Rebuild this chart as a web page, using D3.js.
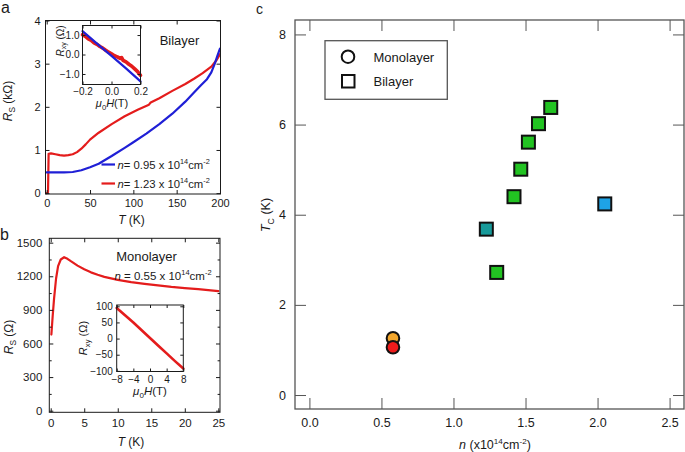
<!DOCTYPE html>
<html lang="en">
<head>
<meta charset="UTF-8">
<title>Tc vs carrier density</title>
<script src="https://cdn.jsdelivr.net/npm/d3@7/dist/d3.min.js"></script>
<style>
    body { margin: 0; background: #fff; }
    text { font-family: "Liberation Sans", Arial, sans-serif; fill: #1a1a1a; }
</style>
</head>
<body>
<svg id="fig" width="685" height="452"></svg>
<script>
    // ---- panel a : bilayer, Rs (kOhm) vs T (K)
    const aTicksX = [0, 50, 100, 150, 200];
    const aTicksY = [0, 1, 2, 3, 4];
    const aBlue = [[0,0.48],[10,0.48],[20,0.48],[30,0.49],[40,0.53],[50,0.6],[60,0.68],[75,0.86],[90,1.05],[100,1.18],[115,1.38],[130,1.6],[145,1.84],[160,2.12],[170,2.33],[178,2.5],[185,2.64],[190,2.8],[194,3.0],[197,3.18],[200,3.35]];
    const aRed = [[0,0],[1.5,0.02],[2.2,0.91],[5,0.92],[10,0.9],[15,0.88],[20,0.87],[25,0.88],[30,0.9],[35,0.95],[40,1.03],[45,1.13],[50,1.24],[60,1.4],[75,1.6],[90,1.78],[105,1.93],[118,2.05],[120,2.1],[130,2.2],[145,2.37],[160,2.53],[170,2.65],[180,2.78],[190,2.93],[196,3.08],[200,3.22]];
    const aLegend = ["0.95", "1.23"];
    // inset a : Rxy (Ohm) vs mu0H (T)
    const aHallTicksX = [-0.2, 0.0, 0.2];
    const aHallTicksY = [-1.0, 0.0, 1.0];
    const aHallBlue = [[-0.2,1.2],[-0.1,0.56],[0,-0.07],[0.1,-0.71],[0.2,-1.38]];
    const aHallRed = [[-0.2,1.02],[-0.18,0.93],[-0.16,0.8],[-0.14,0.73],[-0.12,0.6],[-0.1,0.52],[-0.08,0.41],[-0.06,0.33],[-0.04,0.22],[-0.02,0.12],[0,0.04],[0.02,-0.06],[0.04,-0.12],[0.06,-0.2],[0.07,-0.16],[0.08,-0.3],[0.1,-0.38],[0.12,-0.5],[0.14,-0.6],[0.16,-0.74],[0.18,-0.88],[0.2,-1.07]];

    // ---- panel b : monolayer, Rs (Ohm) vs T (K)
    const bTicksX = [0, 5, 10, 15, 20, 25];
    const bTicksY = [0, 300, 600, 900, 1200, 1500];
    const bMinorY = [150, 450, 750, 1050, 1350];
    const bCurve = [[0.1,680],[0.3,850],[0.5,1000],[0.8,1180],[1.1,1290],[1.5,1350],[2.0,1370],[2.5,1356],[3,1335],[4,1295],[5,1262],[6,1235],[7,1213],[8,1195],[10,1168],[12,1148],[14,1132],[16,1118],[18,1105],[20,1095],[22,1085],[25,1068]];
    // inset b
    const bHallTicksX = [-8, -4, 0, 4, 8];
    const bHallTicksY = [-100, -50, 0, 50, 100];
    const bHall = [[-8,95],[-6,72],[-4,50],[-2,26],[0,2],[2,-22],[4,-46],[6,-70],[8,-93]];

    // ---- panel c : Tc (K) vs n (1e14 cm^-2)
    const cTicksX = [0.0, 0.5, 1.0, 1.5, 2.0, 2.5];
    const cTicksY = [0, 2, 4, 6, 8];
    const monoN = [0.58, 0.58];
    const monoTc = [1.26, 1.06];
    const monoColor = ["#f2a62c", "#ee1b1b"];
    const biN = [1.30, 1.228, 1.42, 1.467, 1.52, 1.59, 1.675, 2.05];
    const biTc = [2.72, 3.68, 4.40, 5.01, 5.61, 6.02, 6.38, 4.24];
    const biColor = ["#22c322", "#189a9a", "#22c322", "#22c322", "#22c322", "#22c322", "#22c322", "#1ea3e6"];

    const svg = d3.select("#fig");
    const blue = "#1f1fd6", red = "#e41c1c";

    // draws frame + inward ticks on all four sides
    function frame(x, y, o) {
        const g = svg.append("g");
        const [x0, x1] = x.range(), [y0, y1] = y.range();
        const fs = o.fs || 11;
        const ax = (axis, tr, fmt, vals, len) => {
            const a = g.append("g").attr("transform", tr)
                .call(axis.tickValues(vals).tickSizeInner(-len).tickSizeOuter(0).tickPadding(o.pad || 5).tickFormat(fmt));
            a.select(".domain").remove();
            a.selectAll("line").attr("stroke", o.col || "#1a1a1a").attr("stroke-width", 1);
            a.selectAll("text").attr("font-size", fs).attr("font-family", null).attr("fill", "#1a1a1a");
            return a;
        };
        const none = () => "";
        ax(d3.axisBottom(x), `translate(0,${y0})`, o.fx, o.tx, o.tl);
        ax(d3.axisTop(x), `translate(0,${y1})`, none, o.tx, o.tl);
        ax(d3.axisLeft(y), `translate(${x0},0)`, o.fy, o.ty, o.tl);
        ax(d3.axisRight(y), `translate(${x1},0)`, none, o.ty, o.tl);
        if (o.my) {
            ax(d3.axisLeft(y), `translate(${x0},0)`, none, o.my, o.tl * 0.6);
            ax(d3.axisRight(y), `translate(${x1},0)`, none, o.my, o.tl * 0.6);
        }
        g.append("rect").attr("x", x0).attr("y", y1).attr("width", x1 - x0).attr("height", y0 - y1)
            .attr("fill", "none").attr("stroke", o.col || "#1a1a1a").attr("stroke-width", o.sw || 1);
        return g;
    }

    function curve(data, x, y, color, w) {
        svg.append("path").datum(data)
            .attr("d", d3.line().x(d => x(d[0])).y(d => y(d[1])))
            .attr("fill", "none").attr("stroke", color).attr("stroke-width", w)
            .attr("stroke-linejoin", "round").attr("stroke-linecap", "round");
    }

    // text with italic / sub / sup parts, shifted with dy
    function label(x, y, size, parts, opt) {
        opt = opt || {};
        const t = svg.append("text").attr("font-size", size).attr("text-anchor", opt.anchor || "middle");
        if (opt.rot) t.attr("transform", `translate(${x},${y}) rotate(-90)`);
        else t.attr("x", x).attr("y", y);
        let shift = 0;
        parts.forEach(p => {
            const s = t.append("tspan").text(p.t);
            let want = 0;
            if (p.sup) { want = -0.42 * size; s.attr("font-size", size * 0.65); }
            if (p.sub) { want = 0.28 * size; s.attr("font-size", size * 0.7); }
            if (want !== shift) s.attr("dy", want - shift);
            shift = want;
            if (p.i) s.attr("font-style", "italic");
        });
        return t;
    }

    const fmt1 = d3.format(".1f");

    // ================= panel a
    const ax = d3.scaleLinear().domain([-1.4, 200.6]).range([45.5, 220.5]);
    const ay = d3.scaleLinear().domain([-0.02, 4]).range([194, 20.5]);
    curve(aRed, ax, ay, red, 2.2);
    curve(aBlue, ax, ay, blue, 2.2);
    frame(ax, ay, {tx: aTicksX, ty: aTicksY, tl: 4, fs: 11, pad: 5, fx: d3.format("d"), fy: d3.format("d")});

    // legend a
    aLegend.forEach((v, i) => {
        const yy = 164.5 + i * 19;
        svg.append("line").attr("x1", 101.5).attr("x2", 115).attr("y1", yy).attr("y2", yy)
            .attr("stroke", i ? red : blue).attr("stroke-width", 2.2);
        label(117.5, yy + 4, 11.3, [{t: "n", i: 1}, {t: "= " + v + " x 10"}, {t: "14", sup: 1}, {t: "cm"}, {t: "-2", sup: 1}], {anchor: "start"});
    });
    label(179.5, 44.5, 13, [{t: "Bilayer"}]);

    // inset a
    const ahx = d3.scaleLinear().domain([-0.2, 0.2]).range([82.5, 140.5]);
    const ahy = d3.scaleLinear().domain([-1.54, 1.49]).range([84.5, 25.5]);
    svg.append("rect").attr("x", 82.5).attr("y", 25.5).attr("width", 58).attr("height", 59).attr("fill", "#fff");
    curve(aHallRed, ahx, ahy, red, 3.6);
    curve(aHallBlue, ahx, ahy, blue, 2.2);
    frame(ahx, ahy, {tx: aHallTicksX, ty: aHallTicksY, tl: 3, fs: 10, pad: 3, fx: fmt1, fy: fmt1});
    label(63.5, 41, 10, [{t: "R", i: 1}, {t: "xy", sub: 1}, {t: " (Ω)"}], {rot: 1});
    label(112, 106.5, 11, [{t: "μ", i: 1}, {t: "0", sub: 1}, {t: "H", i: 1}, {t: "(T)"}]);

    label(12, 101, 12, [{t: "R", i: 1}, {t: "S", sub: 1}, {t: " (kΩ)"}], {rot: 1});
    label(131.5, 224, 12, [{t: "T", i: 1}, {t: " (K)"}]);
    label(1, 13, 16, [{t: "a"}], {anchor: "start"});

    // ================= panel b
    const bx = d3.scaleLinear().domain([-0.21, 25.25]).range([49.3, 220]);
    const by = d3.scaleLinear().domain([-14.3, 1539]).range([412.3, 238.3]);
    curve(bCurve, bx, by, red, 2.2);
    frame(bx, by, {tx: bTicksX, ty: bTicksY, my: bMinorY, tl: 4, fs: 11.5, pad: 7, fx: d3.format("d"), fy: d3.format("d")});
    label(146.5, 261, 13, [{t: "Monolayer"}]);
    label(163, 280, 11.5, [{t: "n", i: 1}, {t: " = 0.55 x 10"}, {t: "14", sup: 1}, {t: "cm"}, {t: "-2", sup: 1}]);

    // inset b
    const bhx = d3.scaleLinear().domain([-8, 8]).range([116.7, 183.3]);
    const bhy = d3.scaleLinear().domain([-102, 104]).range([371.5, 305]);
    curve(bHall, bhx, bhy, red, 2.6);
    frame(bhx, bhy, {tx: bHallTicksX, ty: bHallTicksY, tl: 3, fs: 10, pad: 4, fx: d3.format("d"), fy: d3.format("d")});
    label(87, 338, 11, [{t: "R", i: 1}, {t: "xy", sub: 1}, {t: " (Ω)"}], {rot: 1});
    label(150, 395, 11.5, [{t: "μ", i: 1}, {t: "0", sub: 1}, {t: "H", i: 1}, {t: "(T)"}]);

    label(13, 337, 12, [{t: "R", i: 1}, {t: "S", sub: 1}, {t: " (Ω)"}], {rot: 1});
    label(131, 446, 12, [{t: "T", i: 1}, {t: " (K)"}]);
    label(0, 240, 16, [{t: "b"}], {anchor: "start"});

    // ================= panel c
    const cx = d3.scaleLinear().domain([-0.1, 2.6]).range([295, 684]);
    const cy = d3.scaleLinear().domain([-0.31, 8.32]).range([409, 20]);
    frame(cx, cy, {tx: cTicksX, ty: cTicksY, tl: 11, fs: 12.5, pad: 9, col: "#555", sw: 1.3, fx: fmt1, fy: d3.format("d")});

    svg.append("g").selectAll("rect").data(biN).join("rect")
        .attr("x", d => cx(d) - 6.5).attr("y", (d, i) => cy(biTc[i]) - 6.5)
        .attr("width", 13).attr("height", 13)
        .attr("fill", (d, i) => biColor[i]).attr("stroke", "#111").attr("stroke-width", 2);
    svg.append("g").selectAll("circle").data(monoN).join("circle")
        .attr("cx", d => cx(d)).attr("cy", (d, i) => cy(monoTc[i])).attr("r", 6.3)
        .attr("fill", (d, i) => monoColor[i]).attr("stroke", "#111").attr("stroke-width", 2);

    // legend c
    svg.append("rect").attr("x", 325).attr("y", 40.7).attr("width", 122.3).attr("height", 58.6)
        .attr("fill", "#fff").attr("stroke", "#555").attr("stroke-width", 1.3);
    svg.append("circle").attr("cx", 348).attr("cy", 56.7).attr("r", 6.3)
        .attr("fill", "none").attr("stroke", "#111").attr("stroke-width", 2);
    svg.append("rect").attr("x", 342).attr("y", 75).attr("width", 12.5).attr("height", 12.5)
        .attr("fill", "none").attr("stroke", "#111").attr("stroke-width", 2);
    label(373.5, 61.5, 13, [{t: "Monolayer"}], {anchor: "start"});
    label(373.5, 85.5, 13, [{t: "Bilayer"}], {anchor: "start"});

    label(270, 215, 12.5, [{t: "T", i: 1}, {t: "C", sub: 1}, {t: " (K)"}], {rot: 1});
    label(495, 449, 12.5, [{t: "n", i: 1}, {t: " (x10"}, {t: "14", sup: 1}, {t: "cm"}, {t: "-2", sup: 1}, {t: ")"}]);
    label(256, 13.5, 14, [{t: "c"}], {anchor: "start"});
</script>
</body>
</html>
